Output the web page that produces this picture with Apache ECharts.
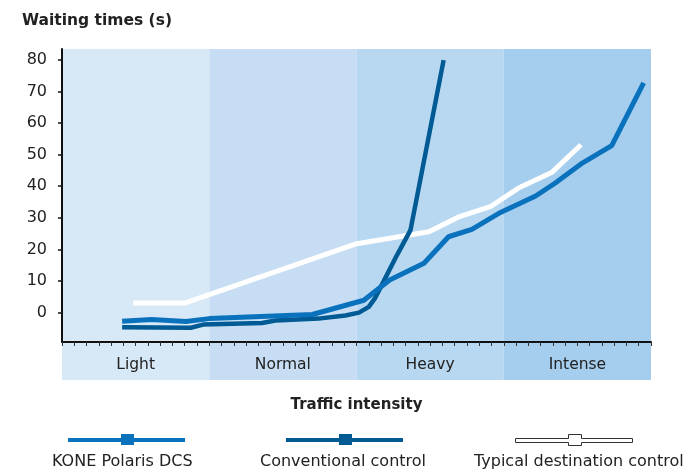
<!DOCTYPE html>
<html>
<head>
<meta charset="utf-8">
<script src="https://cdn.jsdelivr.net/npm/echarts@6/dist/echarts.min.js"></script>
<style>html,body{margin:0;padding:0;background:#fff}#c{width:692px;height:475px}</style>
</head>
<body>
<div id="c"></div>
<script>
// Traffic intensity bands (12 x-units each)
const bandNames = ['Light', 'Normal', 'Heavy', 'Intense'];
const bandStarts = [0, 12, 24, 36];
const bandEnds = [12, 24, 36, 48];
const yTicks = [0, 10, 20, 30, 40, 50, 60, 70, 80];

const seriesNames = ['KONE Polaris DCS', 'Conventional control', 'Typical destination control'];

// [traffic position, waiting time (s)]
const koneData = [[4.9,-2.7],[7.3,-2.2],[10.1,-2.8],[12,-1.9],[20.4,-0.6],[24.6,3.9],[26.7,10.3],[29.5,15.6],[31.5,24],[33.4,26.3],[35.6,31.4],[38.6,36.9],[40.2,41],[42.4,47.3],[44.8,52.8],[47.4,72.7]];
const convData = [[4.9,-4.6],[10.5,-4.8],[11.5,-3.8],[16.3,-3.3],[17.4,-2.5],[20.9,-1.9],[23.1,-0.9],[24.2,0],[25.0,1.8],[25.5,4.5],[26.2,9.8],[27.3,18.2],[28.4,26.1],[31.1,79.9]];
const typicalData = [[5.8,3.0],[10,3.0],[23.9,21.7],[29.9,25.6],[32.4,30.4],[34.9,33.5],[37.2,39.4],[39.9,44.3],[42.3,53.1]];

const bandColors = ['#d7e8f7', '#c6ddf3', '#b8d7f1', '#a4cdee'];
const colors = ['#0a72bd', '#005a94', '#ffffff'];
const FONT = 'DejaVu Sans';
const TXT = '#222';

const bandAreas = bandNames.map((n, i) => [
  { xAxis: bandStarts[i], itemStyle: { color: bandColors[i] } },
  { xAxis: bandEnds[i] }
]);

const iconPath = 'path://M0,4L53,4L53,0L66,0L66,4L117,4L117,8L66,8L66,11L53,11L53,8L0,8Z';
const iconLefts = [68, 286, 515];
const textLefts = [47, 255, 469];

const legends = [];
seriesNames.forEach((n, i) => {
  legends.push({
    data: [{ name: n, icon: iconPath,
      itemStyle: i === 2 ? { color: '#fff', borderColor: '#333', borderWidth: 1 } : { color: colors[i], borderWidth: 0 } }],
    left: iconLefts[i], top: 434, padding: 0, itemWidth: 117, itemHeight: 11,
    selectedMode: false, formatter: () => ''
  });
  legends.push({
    data: [{ name: n, icon: 'none' }],
    left: textLefts[i], top: 454, padding: 0, itemWidth: 0, itemHeight: 16,
    selectedMode: false,
    textStyle: { fontFamily: FONT, fontSize: 16, color: TXT }
  });
});

const chart = echarts.init(document.getElementById('c'), null, { renderer: 'canvas' });
chart.setOption({
  animation: false,
  backgroundColor: '#fff',
  title: {
    text: 'Waiting times (s)', left: 22, top: 13, padding: 0,
    textStyle: { fontFamily: FONT, fontSize: 15.5, fontWeight: 'bold', color: TXT }
  },
  legend: legends,
  grid: [
    { left: 62, right: 41, top: 49, bottom: 133 },
    { left: 62, right: 41, top: 342, height: 38 }
  ],
  xAxis: [
    {
      type: 'value', gridIndex: 0, min: 0, max: 48, interval: 1, z: 10,
      name: 'Traffic intensity', nameLocation: 'middle', nameGap: 56,
      nameTextStyle: { fontFamily: FONT, fontSize: 15, fontWeight: 'bold', color: TXT },
      axisLine: { show: true, onZero: false, lineStyle: { color: '#111', width: 2 } },
      axisTick: { show: true, length: 4, lineStyle: { color: '#333', width: 1 } },
      axisLabel: {
        customValues: [6, 18, 30, 42], margin: 15,
        fontFamily: FONT, fontSize: 15.5, color: TXT,
        formatter: v => bandNames[Math.floor(v / 12)]
      },
      splitLine: { show: false }
    },
    { type: 'value', gridIndex: 1, min: 0, max: 48, show: false }
  ],
  yAxis: [
    {
      type: 'value', gridIndex: 0, min: -9.3, max: 83.4, z: 10,
      axisLine: { show: true, lineStyle: { color: '#111', width: 2 } },
      axisTick: { show: true, customValues: yTicks, length: 4, lineStyle: { color: '#111', width: 1.5 } },
      axisLabel: { customValues: yTicks, margin: 15, fontFamily: FONT, fontSize: 16, color: TXT },
      splitLine: { show: false }
    },
    { type: 'value', gridIndex: 1, min: 0, max: 1, show: false }
  ],
  series: [
    { type: 'line', name: 'bandsMain', xAxisIndex: 0, yAxisIndex: 0, data: [], silent: true,
      markArea: { silent: true, data: bandAreas } },
    { type: 'line', name: 'bandsLow', xAxisIndex: 1, yAxisIndex: 1, data: [], silent: true,
      markArea: { silent: true, data: bandAreas } },
    { type: 'line', name: seriesNames[2], data: typicalData, symbol: 'none', z: 3,
      itemStyle: { color: colors[2] }, lineStyle: { color: colors[2], width: 5 } },
    { type: 'line', name: seriesNames[1], data: convData, symbol: 'none', z: 4,
      itemStyle: { color: colors[1] }, lineStyle: { color: colors[1], width: 4.5 } },
    { type: 'line', name: seriesNames[0], data: koneData, symbol: 'none', z: 5,
      itemStyle: { color: colors[0] }, lineStyle: { color: colors[0], width: 5 } }
  ]
});
</script>
</body>
</html>
